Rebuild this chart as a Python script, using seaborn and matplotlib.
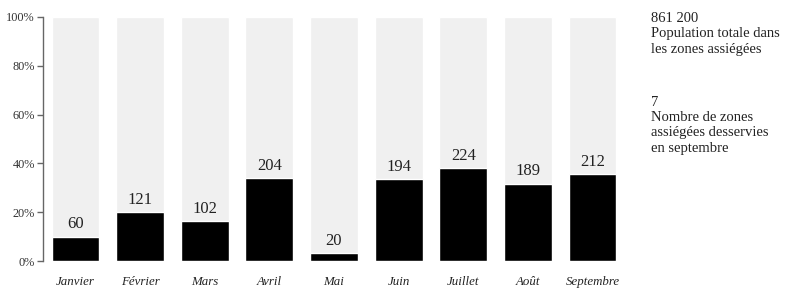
import matplotlib
matplotlib.use("Agg")
import matplotlib.pyplot as plt
import seaborn as sns
import pandas as pd

months = ["Janvier", "Février", "Mars", "Avril", "Mai", "Juin", "Juillet", "Août", "Septembre"]
counts = [60, 121, 102, 204, 20, 194, 224, 189, 212]
percent = [10.0, 20.0, 16.5, 34.0, 3.2, 33.5, 38.0, 31.7, 35.6]
full = [100] * len(months)
yticks = [0, 20, 40, 60, 80, 100]
ytick_labels = ["0%", "20%", "40%", "60%", "80%", "100%"]
side_text_1 = ["861 200", "Population totale dans", "les zones assiégées"]
side_text_2 = ["7", "Nombre de zones", "assiégées desservies", "en septembre"]

sns.set_theme(style="white")
plt.rcParams["font.family"] = ["Liberation Serif", "DejaVu Serif"]

df = pd.DataFrame({"month": months, "pct": percent, "full": full, "count": counts})

fig = plt.figure(figsize=(8, 2.91), dpi=100)
ax = fig.add_axes([0.054, 0.103, 0.727, 0.839])

sns.barplot(data=df, x="month", y="full", color="#f0f0f0", saturation=1, width=0.74, ax=ax)
sns.barplot(data=df, x="month", y="pct", color="black", saturation=1, width=0.74, ax=ax)

for i, (p, c) in enumerate(zip(percent, counts)):
    ax.annotate(str(c), (i, p), xytext=(0, 3), textcoords="offset points",
                ha="center", va="bottom", fontsize=12, color="#222222")

ax.set_xlim(-0.5, 8.5)
ax.set_ylim(0, 100)
ax.set_yticks(yticks)
ax.set_yticklabels(ytick_labels, fontsize=8.8, color="#333333")
ax.set_xticks(range(len(months)))
ax.set_xticklabels(months, fontsize=9.3, style="italic", color="#222222")
ax.set_xlabel("")
ax.set_ylabel("")
for s in ["top", "right", "bottom"]:
    ax.spines[s].set_visible(False)
ax.spines["left"].set_color("#666666")
ax.spines["left"].set_linewidth(1)
ax.tick_params(axis="y", left=True, length=4, width=1, color="#666666", pad=2)
ax.tick_params(axis="x", bottom=False, pad=5)

y = 1 - 18 / 291
for k, line in enumerate(side_text_1):
    fig.text(651 / 800, y - k * 15.5 / 291, line, fontsize=10.5, color="#222222", va="center")
y2 = 1 - 102 / 291
for k, line in enumerate(side_text_2):
    fig.text(651 / 800, y2 - k * 15.5 / 291, line, fontsize=10.5, color="#222222", va="center")

fig.savefig("out.png", dpi=100)
